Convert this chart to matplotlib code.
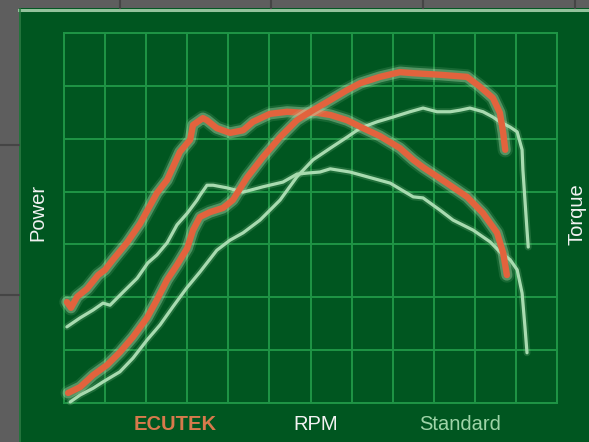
import matplotlib
matplotlib.use("Agg")
import matplotlib.pyplot as plt
import matplotlib.patheffects as pe
from matplotlib.patches import Rectangle
from matplotlib.lines import Line2D

plt.rcParams['font.family'] = ['Liberation Sans', 'DejaVu Sans']

# curves, in grid units (12 columns x 7 rows)
ecu_power_x = [0.07, 0.17, 0.32, 0.56, 0.83, 1.00, 1.19, 1.53, 1.85, 2.26, 2.51, 2.65, 2.82, 3.07,
               3.14, 3.38, 3.48, 3.72, 4.04, 4.36, 4.60, 5.01, 5.43, 5.82, 6.16, 6.48, 6.89, 7.28,
               7.69, 8.18, 8.50, 8.74, 9.32, 9.81, 10.20, 10.54, 10.69, 10.78]
ecu_power_y = [1.91, 1.80, 2.01, 2.16, 2.42, 2.52, 2.71, 3.03, 3.39, 3.97, 4.22, 4.46, 4.75, 4.98,
               5.26, 5.39, 5.35, 5.20, 5.11, 5.16, 5.32, 5.47, 5.51, 5.49, 5.49, 5.45, 5.35, 5.20,
               5.05, 4.82, 4.60, 4.46, 4.16, 3.90, 3.59, 3.22, 2.84, 2.42]

ecu_torque_x = [0.10, 0.39, 0.71, 1.05, 1.36, 1.68, 2.02, 2.26, 2.51, 2.75, 3.00, 3.14, 3.31, 3.55,
                3.87, 4.11, 4.45, 4.84, 5.26, 5.67, 6.06, 6.48, 6.89, 7.21, 7.69, 8.18, 8.50, 9.15,
                9.81, 10.13, 10.44, 10.61, 10.69, 10.74]
ecu_torque_y = [0.19, 0.30, 0.53, 0.72, 0.96, 1.25, 1.61, 1.95, 2.33, 2.61, 2.93, 3.27, 3.52, 3.61,
                3.69, 3.84, 4.26, 4.65, 5.03, 5.35, 5.54, 5.73, 5.92, 6.05, 6.17, 6.26, 6.24, 6.21,
                6.17, 5.98, 5.77, 5.49, 5.11, 4.79]

std_power_x = [0.07, 0.39, 0.71, 0.95, 1.12, 1.44, 1.78, 2.04, 2.26, 2.51, 2.75, 3.00, 3.24, 3.31,
               3.48, 3.63, 3.97, 4.36, 4.84, 5.33, 5.67, 5.92, 6.23, 6.48, 6.96, 7.38, 7.94, 8.50,
               8.74, 9.15, 9.47, 9.96, 10.37, 10.61, 10.86, 11.03, 11.15, 11.22, 11.27]
std_power_y = [1.44, 1.61, 1.76, 1.89, 1.85, 2.10, 2.36, 2.65, 2.80, 3.03, 3.37, 3.59, 3.84, 3.93,
               4.12, 4.12, 4.07, 3.99, 4.09, 4.18, 4.33, 4.35, 4.37, 4.43, 4.37, 4.28, 4.16, 3.90,
               3.88, 3.65, 3.46, 3.27, 3.05, 2.86, 2.71, 2.52, 2.08, 1.44, 0.95]

std_torque_x = [0.15, 0.39, 0.71, 0.95, 1.36, 1.68, 2.02, 2.34, 2.65, 2.99, 3.31, 3.72, 4.04, 4.36,
                4.77, 5.26, 5.67, 6.06, 6.48, 6.89, 7.21, 7.62, 8.01, 8.42, 8.74, 9.08, 9.40, 9.64,
                9.88, 10.20, 10.44, 10.61, 10.86, 11.03, 11.15, 11.17, 11.22, 11.27, 11.30]
std_torque_y = [0.02, 0.15, 0.28, 0.40, 0.59, 0.85, 1.19, 1.48, 1.82, 2.18, 2.48, 2.89, 3.08, 3.22,
                3.46, 3.84, 4.28, 4.60, 4.82, 5.03, 5.20, 5.32, 5.41, 5.51, 5.58, 5.51, 5.51, 5.54,
                5.58, 5.51, 5.41, 5.32, 5.22, 5.13, 4.79, 4.41, 3.84, 3.27, 2.95]

W, H = 589, 442
bg_gray = '#5e5e5e'
panel = '#005620'
grid_col = '#1f9546'
orange = '#e2633d'
pale = '#a8dbb0'

fig = plt.figure(figsize=(W / 100, H / 100), dpi=100, facecolor=bg_gray)

def px(x, y):
    return x / W, 1 - y / H

# green panel and its edges
fig.patches.append(Rectangle(px(19, H), (W - 19) / W, (H - 8) / H, transform=fig.transFigure,
                             facecolor=panel, edgecolor='none', zorder=0))
fig.lines.append(Line2D([19 / W, 1], [1 - 9.5 / H] * 2, transform=fig.transFigure,
                        color='#93c29c', lw=2.2, zorder=1))
fig.lines.append(Line2D([20 / W] * 2, [0, 1 - 9 / H], transform=fig.transFigure,
                        color='#2c7a42', lw=1.2, zorder=1))
for gx in [120, 271, 423, 575]:
    fig.lines.append(Line2D([gx / W] * 2, [1 - 8 / H, 1], transform=fig.transFigure,
                            color='#454545', lw=1.5, zorder=1))
for gy in [145, 295]:
    fig.lines.append(Line2D([0, 19 / W], [1 - gy / H] * 2, transform=fig.transFigure,
                            color='#454545', lw=1.5, zorder=1))

ax = fig.add_axes([64 / W, 39 / H, 493 / W, 370 / H])
ax.set_zorder(5)
ax.set_facecolor('none')
ax.set_xlim(0, 12)
ax.set_ylim(0, 7)
ax.set_xticks(range(13))
ax.set_yticks(range(8))
ax.tick_params(length=0, labelbottom=False, labelleft=False)
ax.grid(True, color=grid_col, lw=1.4)
for s in ax.spines.values():
    s.set_color(grid_col)
    s.set_linewidth(1.4)

glow_o = [pe.Stroke(linewidth=11, foreground='#9fd3a0', alpha=0.15),
          pe.Stroke(linewidth=8, foreground='#c4e6bc', alpha=0.35),
          pe.Normal()]
glow_p = [pe.Stroke(linewidth=5, foreground='#9fd3a0', alpha=0.2), pe.Normal()]

for xs, ys in [(std_power_x, std_power_y), (std_torque_x, std_torque_y)]:
    ax.plot(xs, ys, color=pale, lw=2.3, solid_capstyle='round', solid_joinstyle='round',
            clip_on=False, path_effects=glow_p, zorder=3)
for xs, ys in [(ecu_power_x, ecu_power_y), (ecu_torque_x, ecu_torque_y)]:
    ax.plot(xs, ys, color=orange, lw=4.6, solid_capstyle='round', solid_joinstyle='round',
            clip_on=False, path_effects=glow_o, zorder=4)

fig.text(*px(38, 212), 'Power', color='#f2f2f2', fontsize=14.5, rotation=90, ha='center', va='center')
fig.text(*px(577, 214), 'Torque', color='#f2f2f2', fontsize=14.5, rotation=90, ha='center', va='center')
fig.text(*px(175, 425), 'ECUTEK', color='#d77a4c', fontsize=14.5, fontweight='bold', ha='center', va='center')
fig.text(*px(316, 425), 'RPM', color='#f2f2f2', fontsize=14.5, ha='center', va='center')
fig.text(*px(460, 425), 'Standard', color='#9fd4a8', fontsize=14.5, ha='center', va='center')

fig.savefig('out.png', dpi=100, facecolor=bg_gray)
